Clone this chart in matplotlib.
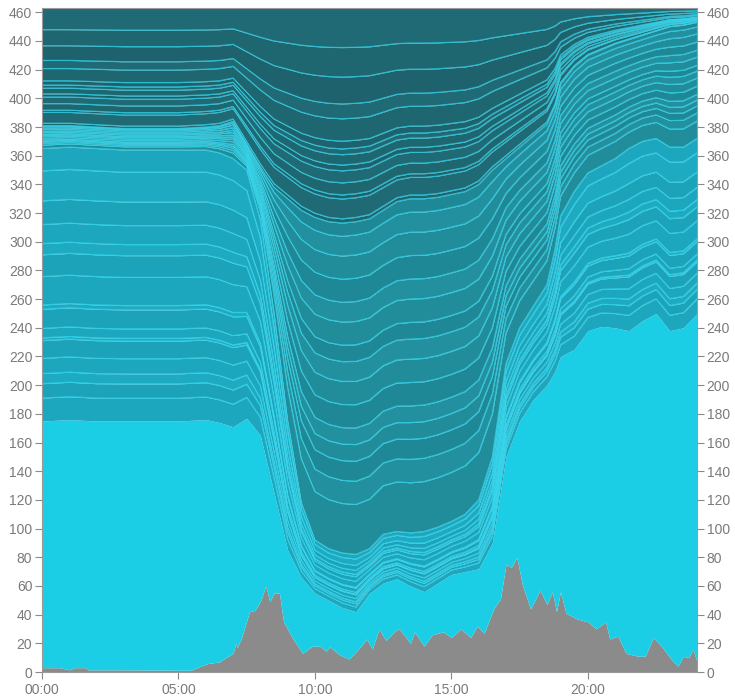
import matplotlib.pyplot as plt
import numpy as np

# grey area at the bottom (hours -> value)
grey_h = [0, 0.65, 1.0, 1.2, 1.6, 1.7, 2.9, 5.4, 5.5, 5.8, 6.1, 6.5, 6.7, 7.0, 7.1, 7.15, 7.3, 7.6, 7.8,
          8.0, 8.2, 8.35, 8.5, 8.7, 8.85, 9.2, 9.55, 9.9, 10.2, 10.4, 10.55, 10.9, 11.25, 11.6, 11.9,
          12.1, 12.35, 12.6, 12.95, 13.1, 13.5, 13.65, 14.0, 14.3, 14.7, 15.0, 15.35, 15.7, 15.95,
          16.2, 16.55, 16.8, 17.0, 17.2, 17.4, 17.6, 17.9, 18.25, 18.5, 18.7, 18.85, 19.0, 19.2,
          19.6, 20.0, 20.3, 20.65, 20.8, 21.1, 21.4, 21.85, 22.1, 22.4, 22.7, 23.05, 23.3, 23.5,
          23.7, 23.85, 24]
grey_v = [3, 3, 1.5, 3, 3, 1.5, 1.5, 1.2, 1.5, 4, 6, 7, 9.5, 13, 20, 17, 23, 42, 43,
          49, 60, 49, 55, 55, 35, 23, 13, 18, 18, 14.5, 17.6, 12, 9, 16, 23,
          16, 30, 22, 29, 30, 20, 28, 18, 26, 28, 24, 30, 24, 32,
          27, 44, 51, 75, 73, 80, 61, 44, 57, 47, 56, 42, 56, 41,
          37, 35, 30, 35, 23, 25, 13, 11, 11, 24, 18, 9, 4, 11,
          10, 16, 7]

# boundaries between the colour groups
band_h = [0, 1, 2, 3, 4, 5, 6, 6.5, 7, 7.5, 8, 8.5, 9, 9.5, 10, 10.5, 11, 11.5, 12, 12.5, 13,
          13.5, 14, 14.5, 15, 15.5, 16, 16.5, 17, 17.5, 18, 18.5, 18.8, 19, 19.5, 20, 20.5, 21,
          21.5, 22, 22.5, 23, 23.5, 24]
bright_top = [175, 176, 175, 175, 175, 175, 176, 174, 171, 177, 165, 125, 85, 66, 55, 50, 45, 42,
              55, 62, 65, 60, 56, 62, 68, 70, 72, 90, 150, 175, 190, 200, 210, 220, 225, 238, 241,
              240, 238, 245, 250, 238, 240, 250]
light_top = [365, 366, 365, 364, 364, 364, 364, 362, 358, 350, 315, 250, 175, 118, 92, 86, 83,
             82, 86, 96, 98, 97, 98, 101, 105, 110, 120, 150, 215, 240, 255, 270, 295, 318, 335,
             348, 353, 358, 365, 370, 372, 366, 366, 372]
dark_start = [381, 381, 380, 379, 379, 379, 380, 381, 384, 368, 352, 338, 330, 322, 317, 314,
              313, 314, 316, 322, 328, 330, 330, 331, 333, 335, 340, 350, 358, 366, 374, 382,
              395, 410, 422, 430, 434, 438, 441, 444, 447, 450, 451, 453]
TOP = 463

# station boundaries inside each group, as share of the group
light_lines = [0.084, 0.137, 0.174, 0.23, 0.295, 0.305, 0.34, 0.41, 0.426, 0.53, 0.61, 0.651,
               0.721, 0.808, 0.918]
mid_lines = [0.15, 0.22, 0.28, 0.33, 0.38, 0.45, 0.52, 0.58, 0.63, 0.7, 0.76, 0.83, 0.9, 0.96]
dark_lines = [0.02, 0.112, 0.131, 0.187, 0.243, 0.27, 0.318, 0.345, 0.381, 0.485, 0.554, 0.679,
              0.816]

t = np.union1d(np.array(grey_h), np.array(band_h))
grey = np.interp(t, grey_h, grey_v)
b = np.interp(t, band_h, bright_top)
a = np.interp(t, band_h, light_top)
d = np.interp(t, band_h, dark_start)
top = np.full_like(t, TOP)

fig = plt.figure(figsize=(7.35, 7.0), dpi=100)
ax = fig.add_axes([42 / 735, 28 / 700, 655 / 735, 664 / 700])

ax.fill_between(t, 0, grey, color="#8b8b8b", lw=0)
ax.fill_between(t, grey, b, color="#1bcee6", lw=0)


def band(lo, hi, fracs, shades):
    edges = [lo] + [lo + f * (hi - lo) for f in fracs] + [hi]
    for i in range(len(edges) - 1):
        ax.fill_between(t, edges[i], edges[i + 1], color=shades[i % len(shades)], lw=0)
    return edges[1:-1]


lines = []
lines += band(b, a, light_lines, ["#1da7be", "#1ca3ba", "#1eabc2"])
lines += band(a, d, mid_lines, ["#218d9b", "#22909f", "#1f8896"])
lines += band(d, top, dark_lines, ["#1e6670", "#1f6a75", "#1d626c"])
for y in lines + [a, d]:
    ax.plot(t, y, color="#33d8ef", lw=0.9, alpha=0.75)

ax.set_xlim(0, 24)
ax.set_ylim(0, TOP)
ax.set_yticks(range(0, 461, 20))
ax.set_xticks([0, 5, 10, 15, 20])
ax.set_xticklabels(["00:00", "05:00", "10:00", "15:00", "20:00"])
ax.tick_params(axis="y", which="both", left=True, right=True, labelleft=True, labelright=True,
               length=5, width=0.8, color="#8a8a8a", labelcolor="#7a7a7a", labelsize=10, pad=2)
ax.tick_params(axis="x", length=5, width=0.8, color="#8a8a8a", labelcolor="#7a7a7a",
               labelsize=10, pad=3)
for lab in ax.get_xticklabels() + ax.get_yticklabels():
    lab.set_family(["Liberation Sans", "DejaVu Sans"])
for s in ax.spines.values():
    s.set_color("#9a9a9a")
    s.set_linewidth(0.8)

fig.savefig("out.png", dpi=100)
